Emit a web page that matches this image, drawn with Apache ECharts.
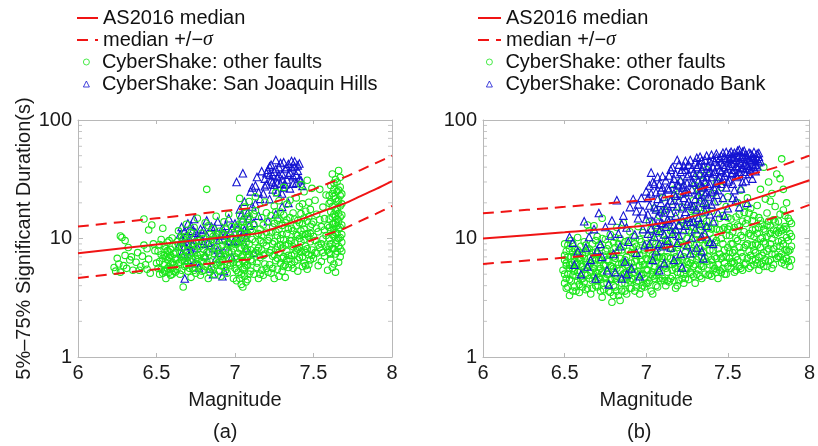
<!DOCTYPE html>
<html><head><meta charset="utf-8">
<script src="https://cdn.jsdelivr.net/npm/echarts@6/dist/echarts.min.js"></script>
<style>html,body{margin:0;padding:0;background:#fff}#c{width:818px;height:446px}</style>
</head><body><div id="c"></div>
<script>
// ---------- Model lines (AS2016) ----------
const magLineA = [6.0, 6.5, 7.0, 7.15, 7.3, 7.4, 7.5, 7.6, 7.7, 7.8, 7.9, 8.0];
const medA = [7.5, 8.9, 10.5, 11.1, 12.8, 14.2, 15.9, 17.8, 19.8, 22.8, 26.2, 30.5];
const upA  = [12.6, 14.8, 17.5, 18.5, 21.3, 23.5, 26.0, 29.4, 33.0, 37.8, 43.5, 50.0];
const loA  = [4.65, 5.5, 6.5, 6.85, 7.9, 8.75, 9.8, 11.0, 12.2, 14.1, 16.2, 18.8];

const magLineB = [6.0, 6.5, 7.0, 7.2, 7.4, 7.6, 7.8, 8.0];
const medB = [10.0, 11.3, 12.9, 14.3, 17.0, 20.4, 25.0, 31.0];
const upB  = [16.3, 18.5, 21.2, 23.4, 27.8, 33.4, 40.0, 50.0];
const loB  = [6.1, 6.9, 7.9, 8.8, 10.5, 12.5, 15.3, 19.2];

// ---------- Axis ticks ----------
const xTicks = [6, 6.5, 7, 7.5, 8];
const yMinorTicks = [2,3,4,5,6,7,8,9,20,30,40,50,60,70,80,90];

// ---------- Panel (a) CyberShake: other faults [magnitude, duration] ----------
const gA1 = [[6.23,5.7],[6.24,5.3],[6.25,6.8],[6.26,6.1],[6.27,10.5],[6.27,5.2],[6.28,10.2],[6.29,5.9],[6.30,7.2],[6.30,9.6],[6.31,5.6],[6.32,8.4],[6.33,6.6],[6.34,7.0],[6.35,5.4]];
const gA2 = [[6.37,6.3],[6.38,7.6],[6.39,5.4],[6.40,5.8],[6.41,7.1],[6.42,14.6],[6.43,6.0],[6.44,8.2],[6.45,6.7],[6.45,11.8],[6.46,5.1],[6.47,13.0],[6.48,9.0],[6.49,7.9],[6.44,5.5],[6.42,8.8]];
const gA3 = [[6.51,5.6],[6.52,6.4],[6.52,5.0],[6.53,7.3],[6.53,9.8],[6.54,5.1],[6.54,12.2],[6.55,8.6],[6.55,6.0],[6.56,7.0],[6.56,5.4],[6.56,4.6],[6.57,9.3],[6.57,6.6],[6.57,7.9],[6.58,5.8],[6.58,7.7],[6.58,5.2],[6.59,8.1],[6.59,4.9],[6.59,6.1],[6.60,6.3],[6.60,10.1],[6.60,5.6],[6.61,7.4],[6.61,5.3],[6.62,6.8],[6.62,8.8],[6.55,7.2],[6.58,6.9]];
const gA4 = [[6.63,5.5],[6.63,9.4],[6.64,6.2],[6.64,11.6],[6.65,7.6],[6.65,5.0],[6.66,8.3],[6.66,6.6],[6.67,3.9],[6.67,9.9],[6.68,5.8],[6.68,7.1],[6.69,13.2],[6.69,6.0],[6.70,8.9],[6.70,5.3],[6.71,10.6],[6.71,7.4],[6.72,6.4],[6.72,4.7],[6.73,9.1],[6.73,5.6],[6.74,12.4],[6.74,7.9],[6.75,6.8],[6.75,5.1],[6.76,8.5],[6.76,14.8],[6.68,10.4],[6.70,6.9]];
const gA5 = [[6.77,5.9],[6.77,9.6],[6.78,7.3],[6.78,4.9],[6.79,11.1],[6.79,6.4],[6.80,8.1],[6.80,5.4],[6.81,13.6],[6.81,7.0],[6.82,26.0],[6.82,6.1],[6.83,9.3],[6.83,4.6],[6.84,7.7],[6.84,10.8],[6.85,5.7],[6.85,8.7],[6.86,12.1],[6.86,6.6],[6.87,7.4],[6.87,5.0],[6.88,9.9],[6.88,15.4],[6.80,6.9],[6.84,5.2]];
const gA6 = [[6.89,6.2],[6.89,8.4],[6.90,5.3],[6.90,11.5],[6.91,7.1],[6.91,4.8],[6.92,9.6],[6.92,6.5],[6.93,13.8],[6.93,5.7],[6.94,8.0],[6.94,7.3],[6.95,10.4],[6.95,5.1],[6.96,6.8],[6.96,16.0],[6.97,9.0],[6.97,5.9],[6.98,7.7],[6.98,12.6],[6.99,6.3],[6.99,4.6],[6.92,8.8],[6.95,6.0]];
const gA7 = [[7.00,5.6],[7.00,8.9],[7.01,12.3],[7.01,6.7],[7.01,4.4],[7.02,10.1],[7.02,7.5],[7.02,5.2],[7.03,15.8],[7.03,8.2],[7.03,6.1],[7.04,4.1],[7.04,11.2],[7.04,7.0],[7.04,9.5],[7.05,5.5],[7.05,13.7],[7.05,6.5],[7.06,18.4],[7.06,8.6],[7.06,4.8],[7.07,7.8],[7.07,10.6],[7.07,5.9],[7.08,6.9],[7.08,14.6],[7.08,4.5],[7.09,9.0],[7.09,20.5],[7.09,7.3],[7.10,5.3],[7.10,11.9],[7.05,3.9],[7.03,21.8],[7.07,16.5],[7.02,9.3],[7.06,6.2],[7.08,8.0],[7.04,5.0],[7.09,12.8]];
const gA8 = [[7.11,6.4],[7.11,9.8],[7.12,5.0],[7.12,13.1],[7.13,7.6],[7.13,17.2],[7.14,5.7],[7.14,10.7],[7.15,8.3],[7.15,4.6],[7.16,12.0],[7.16,6.9],[7.17,15.0],[7.17,5.4],[7.18,9.2],[7.18,7.2],[7.19,20.3],[7.19,6.1],[7.20,11.3],[7.20,8.7],[7.21,5.2],[7.21,14.0],[7.13,22.5],[7.16,9.6],[7.18,4.9],[7.14,7.9]];
const gA9 = [[7.22,6.0],[7.22,10.3],[7.23,8.0],[7.23,15.6],[7.23,5.1],[7.24,12.5],[7.24,7.1],[7.25,4.6],[7.25,18.8],[7.25,9.4],[7.26,6.5],[7.26,11.4],[7.26,24.5],[7.27,5.5],[7.27,8.6],[7.27,14.3],[7.28,7.6],[7.28,20.8],[7.28,4.8],[7.29,10.0],[7.29,6.2],[7.29,16.7],[7.30,8.3],[7.30,12.9],[7.30,5.3],[7.31,7.0],[7.31,27.0],[7.31,9.7],[7.32,6.0],[7.32,13.6],[7.32,4.7],[7.33,11.0],[7.33,7.8],[7.33,19.5],[7.34,5.7],[7.34,9.0],[7.35,15.0],[7.35,6.7],[7.28,11.9],[7.25,7.3]];
const gA10 = [[7.36,7.2],[7.36,12.2],[7.37,5.6],[7.37,16.4],[7.38,9.2],[7.38,6.4],[7.39,22.0],[7.39,10.8],[7.40,5.3],[7.40,8.1],[7.40,14.2],[7.41,18.6],[7.41,6.9],[7.42,11.6],[7.42,28.5],[7.42,7.7],[7.43,5.8],[7.43,13.3],[7.44,9.8],[7.44,24.8],[7.44,6.2],[7.45,17.0],[7.45,8.6],[7.46,5.5],[7.46,11.0],[7.46,31.0],[7.47,7.3],[7.47,15.3],[7.47,20.2],[7.48,9.4],[7.48,6.6],[7.48,12.7],[7.49,8.0],[7.49,26.5],[7.41,10.0],[7.45,5.9],[7.43,19.6],[7.39,7.9],[7.47,10.3],[7.44,14.9]];
const gA11 = [[7.50,6.8],[7.50,13.8],[7.51,9.6],[7.51,21.0],[7.52,7.5],[7.52,16.0],[7.53,5.9],[7.53,11.4],[7.54,26.0],[7.54,8.4],[7.55,12.6],[7.55,6.4],[7.56,18.4],[7.56,9.9],[7.57,7.1],[7.57,14.7],[7.58,23.3],[7.58,10.6],[7.59,8.0],[7.59,5.4]];
const gA12 = [[7.60,7.6],[7.60,12.4],[7.60,19.8],[7.61,9.0],[7.61,28.0],[7.61,6.6],[7.62,15.2],[7.62,10.8],[7.62,35.0],[7.63,8.2],[7.63,22.6],[7.63,13.4],[7.63,6.1],[7.64,17.4],[7.64,11.2],[7.64,31.5],[7.64,7.4],[7.65,25.0],[7.65,9.6],[7.65,14.6],[7.65,20.6],[7.66,8.6],[7.66,37.5],[7.66,12.0],[7.66,16.3],[7.67,10.2],[7.67,27.2],[7.67,7.0],[7.67,18.8],[7.68,13.0],[7.68,23.8],[7.68,9.3],[7.62,5.7],[7.64,5.2],[7.66,6.3],[7.61,16.8],[7.63,29.4],[7.65,12.8],[7.67,32.8],[7.68,15.8],[7.60,10.0],[7.62,24.0]];
const gAx1 = [[6.50,6.2],[6.51,7.8],[6.52,8.9],[6.53,5.5],[6.54,6.8],[6.55,5.3],[6.56,8.2],[6.57,5.6],[6.58,9.6],[6.59,7.2],[6.60,5.0],[6.61,6.0],[6.62,7.6],[6.62,5.2],[6.63,6.6],[6.64,8.8],[6.65,6.3],[6.66,5.4],[6.66,10.2],[6.67,7.0],[6.68,6.4],[6.69,9.0],[6.70,7.8],[6.71,5.6],[6.72,11.2],[6.73,6.7],[6.74,5.4],[6.75,9.4],[6.76,6.1],[6.76,7.2]];
const gAx2 = [[6.77,6.8],[6.78,8.6],[6.79,5.3],[6.80,10.0],[6.81,5.8],[6.82,7.6],[6.83,12.8],[6.84,6.4],[6.85,9.8],[6.86,5.4],[6.87,8.2],[6.88,6.0],[6.89,10.8],[6.90,7.4],[6.91,5.9],[6.92,11.0],[6.93,7.0],[6.94,5.4],[6.95,9.0],[6.96,7.8],[6.97,6.2],[6.98,10.2],[6.99,8.2],[6.90,6.3],[6.94,12.0],[6.86,10.4]];
const gAx3 = [[7.00,7.0],[7.00,10.8],[7.01,5.4],[7.01,9.0],[7.02,13.0],[7.02,6.3],[7.03,11.0],[7.03,4.6],[7.04,8.3],[7.04,14.0],[7.05,7.2],[7.05,10.0],[7.06,5.7],[7.06,12.4],[7.07,9.2],[7.07,4.3],[7.08,11.0],[7.08,6.0],[7.09,5.0],[7.09,15.4],[7.10,8.0],[7.10,6.6],[7.11,11.5],[7.12,7.4],[7.13,9.4],[7.14,6.2],[7.15,11.0],[7.16,5.0],[7.17,8.0],[7.18,13.0],[7.19,7.4],[7.20,5.6],[7.21,9.6],[7.12,16.0],[7.17,10.6],[7.20,16.5]];
const gAx4 = [[7.22,7.6],[7.23,11.2],[7.24,5.6],[7.24,9.0],[7.25,13.4],[7.26,8.0],[7.27,10.6],[7.27,6.8],[7.28,14.8],[7.29,8.8],[7.30,6.8],[7.30,10.8],[7.31,5.8],[7.31,15.8],[7.32,8.8],[7.33,14.4],[7.34,7.2],[7.34,12.0],[7.35,9.6],[7.35,21.0],[7.36,6.0],[7.36,9.6],[7.37,11.6],[7.38,7.4],[7.38,14.6],[7.39,12.8],[7.40,6.6],[7.40,10.6],[7.41,8.4],[7.41,13.6],[7.42,9.4],[7.42,16.2],[7.43,7.0],[7.43,10.8],[7.44,12.0],[7.45,7.6],[7.45,10.8],[7.46,8.2],[7.46,14.0],[7.47,6.0],[7.48,11.0],[7.48,17.6],[7.49,7.2],[7.49,13.2],[7.44,8.0],[7.37,8.5],[7.33,6.6],[7.26,16.8]];
const gAx5 = [[7.50,10.4],[7.51,7.6],[7.52,12.2],[7.53,8.8],[7.54,14.4],[7.55,9.0],[7.56,7.6],[7.57,11.8],[7.58,8.6],[7.59,12.8],[7.60,8.6],[7.60,14.6],[7.60,23.0],[7.61,11.6],[7.61,20.4],[7.62,8.2],[7.62,13.2],[7.62,18.6],[7.63,10.4],[7.63,16.0],[7.63,26.0],[7.64,9.0],[7.64,13.6],[7.64,21.6],[7.65,7.8],[7.65,11.0],[7.65,17.8],[7.65,30.0],[7.66,10.0],[7.66,14.0],[7.66,21.0],[7.67,8.2],[7.67,12.4],[7.67,15.2],[7.67,23.0],[7.68,10.8],[7.68,19.6],[7.68,7.8],[7.61,7.4],[7.63,12.0],[7.66,25.6],[7.64,15.4]];

// ---------- Panel (a) CyberShake: San Joaquin Hills ----------
const bA1 = [[6.64,8.6],[6.65,10.8],[6.66,7.4],[6.66,12.5],[6.67,9.4],[6.68,4.6],[6.68,11.6],[6.69,8.0],[6.70,13.4],[6.70,6.6],[6.71,10.0],[6.72,7.8],[6.72,12.9],[6.73,9.0],[6.74,14.6],[6.74,6.2],[6.75,11.2],[6.76,8.4],[6.77,5.7],[6.78,12.0],[6.79,9.6]];
const bA2 = [[6.80,11.8],[6.81,7.2],[6.82,14.2],[6.83,9.2],[6.84,5.6],[6.85,12.6],[6.86,8.3],[6.87,10.5],[6.88,6.8],[6.89,13.9],[6.90,9.8],[6.91,7.6],[6.92,12.2],[6.93,5.3],[6.94,10.8],[6.95,8.6],[6.96,14.8],[6.97,11.4],[6.98,7.0],[6.99,9.4],[6.86,5.0],[6.92,4.8]];
const bA3 = [[7.00,13.4],[7.01,30.0],[7.02,9.6],[7.03,17.6],[7.04,11.6],[7.05,35.5],[7.05,14.8],[7.06,20.4],[7.07,10.2],[7.08,16.4],[7.09,12.8],[7.10,25.0],[7.11,18.6],[7.12,13.6],[7.13,28.0],[7.14,33.0],[7.15,15.6],[7.16,21.6],[7.17,37.0],[7.07,8.4],[7.12,7.6]];
const bA4 = [[7.18,24.0],[7.19,32.0],[7.20,28.6],[7.21,38.0],[7.22,21.5],[7.22,34.5],[7.23,42.0],[7.24,30.0],[7.24,26.0],[7.25,36.6],[7.26,46.0],[7.27,33.0],[7.27,24.6],[7.28,40.0],[7.29,29.0],[7.30,35.0],[7.31,44.0],[7.31,27.0],[7.32,38.6],[7.33,31.5],[7.34,42.6],[7.35,26.5],[7.35,36.0],[7.36,45.0],[7.37,33.6],[7.38,40.6],[7.39,29.6],[7.40,37.4],[7.41,43.0],[7.42,31.0],[7.43,27.8],[7.26,16.0],[7.30,18.5],[7.21,14.0],[7.34,20.0]];
const bAx = [[6.66,9.8],[6.68,8.6],[6.69,10.6],[6.71,8.8],[6.73,11.6],[6.75,9.8],[6.77,10.4],[6.80,9.0],[6.82,10.6],[6.84,8.8],[6.87,12.4],[6.89,8.0],[6.91,10.6],[6.94,12.8],[6.96,9.6],[6.98,12.2],[7.02,12.4],[7.04,15.8],[7.06,11.8],[7.09,14.8],[7.11,27.0],[7.13,19.6],[7.15,24.6],[7.19,27.6],[7.20,35.6],[7.22,40.6],[7.23,31.0],[7.25,28.4],[7.26,38.6],[7.28,34.0],[7.29,43.4],[7.30,31.6],[7.32,28.6],[7.33,40.0],[7.34,34.6],[7.36,40.0],[7.37,29.0],[7.38,44.6],[7.39,34.4],[7.40,41.4],[7.41,31.8],[7.24,34.0],[7.27,29.4],[7.30,24.0]];

// ---------- Panel (b) CyberShake: other faults ----------
const gB1 = [[6.49,5.4],[6.50,4.2],[6.50,6.6],[6.51,7.8],[6.51,3.8],[6.52,5.0],[6.52,8.8],[6.53,6.0],[6.53,4.5],[6.54,7.0],[6.54,9.6],[6.55,5.6],[6.55,3.6],[6.56,6.4],[6.56,8.2],[6.57,4.8],[6.57,7.4],[6.58,5.2],[6.58,10.2],[6.59,6.8],[6.59,4.1],[6.60,5.8],[6.60,8.6],[6.53,3.3],[6.56,3.9],[6.51,5.9],[6.58,6.2],[6.55,7.7],[6.50,9.0],[6.59,3.5]];
const gB2 = [[6.61,4.6],[6.61,7.2],[6.62,5.5],[6.62,9.4],[6.63,3.7],[6.63,6.3],[6.64,8.0],[6.64,4.9],[6.65,11.6],[6.65,5.9],[6.66,7.0],[6.66,3.4],[6.67,4.4],[6.67,9.0],[6.68,6.1],[6.68,12.8],[6.69,5.2],[6.69,7.7],[6.70,3.9],[6.70,10.4],[6.71,6.6],[6.71,4.7],[6.72,8.4],[6.72,5.6],[6.73,14.8],[6.73,3.2],[6.74,7.1],[6.74,4.2],[6.75,9.8],[6.75,5.9],[6.63,8.8],[6.67,6.6],[6.70,5.1],[6.72,3.6],[6.64,13.0],[6.69,4.0]];
const gB3 = [[6.76,5.0],[6.76,8.2],[6.77,3.6],[6.77,6.4],[6.78,10.8],[6.78,4.5],[6.79,7.4],[6.79,2.9],[6.80,5.6],[6.80,9.2],[6.81,3.9],[6.81,6.8],[6.82,12.4],[6.82,4.8],[6.83,7.9],[6.83,3.3],[6.84,5.4],[6.84,10.0],[6.85,6.2],[6.85,4.2],[6.86,8.6],[6.86,13.6],[6.87,5.1],[6.87,3.6],[6.88,7.0],[6.88,4.5],[6.89,9.6],[6.89,5.8],[6.90,3.8],[6.90,11.4],[6.78,5.9],[6.81,8.4],[6.84,3.0],[6.87,6.6],[6.80,4.0],[6.88,5.2]];
const gB4 = [[6.91,4.6],[6.91,7.6],[6.92,5.7],[6.92,10.4],[6.93,3.6],[6.93,6.4],[6.94,8.6],[6.94,4.3],[6.95,12.6],[6.95,5.3],[6.96,7.2],[6.96,3.4],[6.97,9.4],[6.97,4.9],[6.98,6.0],[6.98,11.2],[6.99,3.9],[6.99,8.0],[7.00,5.5],[7.00,6.8],[6.93,9.0],[6.96,5.9],[6.98,4.0]];
const gB5 = [[7.01,4.2],[7.01,8.4],[7.02,6.0],[7.02,13.8],[7.03,3.6],[7.03,10.2],[7.04,5.2],[7.04,7.3],[7.05,18.0],[7.05,4.6],[7.06,9.0],[7.06,6.4],[7.07,12.0],[7.07,3.9],[7.08,5.6],[7.08,15.6],[7.09,7.8],[7.09,4.4],[7.10,22.0],[7.10,10.8],[7.11,5.9],[7.11,8.6],[7.12,4.0],[7.12,13.0],[7.04,3.4],[7.07,6.9],[7.09,11.4],[7.03,5.0],[7.11,17.2],[7.06,4.9]];
const gB6 = [[7.13,5.2],[7.13,9.6],[7.14,4.3],[7.14,14.4],[7.15,6.8],[7.15,20.5],[7.16,4.8],[7.16,11.2],[7.17,7.6],[7.17,26.0],[7.18,5.6],[7.18,16.6],[7.19,8.4],[7.19,4.0],[7.20,12.6],[7.20,6.2],[7.21,30.0],[7.21,9.2],[7.22,4.6],[7.22,18.4],[7.23,7.0],[7.23,13.6],[7.24,5.4],[7.24,24.0],[7.25,10.0],[7.25,6.4],[7.18,3.8],[7.15,8.2],[7.21,5.1],[7.23,4.2],[7.19,22.5],[7.16,6.0]];
const gB7 = [[7.26,4.5],[7.26,8.8],[7.27,6.2],[7.27,15.0],[7.28,11.2],[7.28,5.0],[7.29,21.0],[7.29,7.4],[7.30,4.2],[7.30,9.8],[7.30,28.0],[7.31,6.6],[7.31,13.0],[7.32,18.0],[7.32,5.5],[7.32,34.0],[7.33,8.2],[7.33,11.8],[7.33,24.5],[7.34,4.6],[7.34,7.0],[7.34,16.2],[7.35,10.4],[7.35,30.5],[7.35,5.8],[7.36,8.8],[7.36,20.0],[7.37,6.4],[7.37,14.0],[7.37,38.0],[7.38,12.2],[7.38,4.9],[7.31,9.0],[7.29,5.8],[7.33,6.0],[7.36,12.6],[7.32,26.0],[7.34,22.0],[7.30,16.8],[7.28,7.9]];
const gB8 = [[7.39,6.0],[7.39,11.0],[7.40,4.8],[7.40,17.0],[7.41,8.0],[7.41,24.0],[7.42,5.6],[7.42,13.4],[7.43,9.6],[7.43,6.8],[7.44,20.5],[7.44,4.6],[7.45,11.8],[7.45,7.4],[7.46,27.0],[7.46,5.2],[7.47,15.6],[7.47,9.0],[7.48,6.2],[7.48,12.4],[7.49,18.6],[7.49,5.0],[7.50,8.4],[7.50,22.5],[7.51,6.8],[7.51,10.6],[7.52,14.6],[7.52,5.6],[7.43,30.0],[7.47,7.0],[7.41,5.9],[7.50,12.0]];
const gB9 = [[7.53,6.4],[7.53,11.4],[7.54,8.0],[7.54,5.2],[7.55,15.2],[7.55,7.0],[7.56,9.6],[7.56,20.0],[7.57,5.8],[7.57,12.6],[7.58,7.6],[7.58,25.5],[7.59,10.2],[7.59,5.4],[7.60,16.6],[7.60,8.4],[7.61,6.2],[7.61,13.4],[7.62,22.0],[7.62,9.0],[7.63,5.6],[7.63,11.0],[7.64,7.2],[7.64,18.0],[7.65,8.8],[7.65,14.2],[7.66,6.0],[7.66,10.4]];
const gB10 = [[7.67,6.6],[7.67,12.0],[7.68,8.8],[7.68,19.0],[7.69,5.4],[7.69,15.0],[7.70,10.0],[7.70,26.0],[7.71,7.2],[7.71,13.2],[7.72,5.8],[7.72,9.4],[7.73,21.5],[7.73,11.4],[7.74,7.8],[7.74,16.4],[7.75,30.0],[7.75,6.4],[7.76,12.8],[7.76,9.0],[7.77,24.0],[7.77,5.6],[7.78,14.4],[7.78,8.2],[7.79,18.6],[7.79,10.8],[7.80,6.8],[7.80,35.0],[7.72,40.0],[7.76,20.6],[7.70,6.0],[7.74,13.0]];
const gB11 = [[7.81,9.4],[7.81,14.0],[7.82,7.0],[7.82,32.0],[7.83,11.6],[7.83,47.0],[7.83,6.2],[7.84,17.4],[7.84,9.0],[7.85,12.6],[7.85,6.0],[7.86,20.0],[7.86,10.2],[7.87,7.8],[7.87,14.8],[7.88,11.0],[7.88,5.8],[7.89,8.6],[7.89,13.4],[7.84,26.0],[7.86,8.0],[7.82,16.0]];
const gBx1 = [[6.50,5.0],[6.50,7.2],[6.51,4.6],[6.51,6.2],[6.52,3.9],[6.52,7.0],[6.53,5.6],[6.53,8.2],[6.54,4.4],[6.54,6.0],[6.55,4.9],[6.55,9.0],[6.56,5.3],[6.56,7.0],[6.57,3.6],[6.57,6.0],[6.58,4.4],[6.58,8.0],[6.59,5.4],[6.59,7.6],[6.60,4.5],[6.60,6.6],[6.61,3.9],[6.61,5.8],[6.62,4.3],[6.62,6.8],[6.63,5.0],[6.63,7.6],[6.64,3.8],[6.64,6.0],[6.65,4.6],[6.65,8.2],[6.66,5.2],[6.66,6.2],[6.67,3.8],[6.67,7.6],[6.68,4.8],[6.68,5.6],[6.69,6.6],[6.69,9.6],[6.70,4.4],[6.70,7.4],[6.71,5.4],[6.71,8.8],[6.72,4.5],[6.72,6.6],[6.73,5.2],[6.73,10.0],[6.74,3.7],[6.74,6.0],[6.75,4.6],[6.75,7.8]];
const gBx2 = [[6.76,4.2],[6.76,6.6],[6.77,5.0],[6.77,8.8],[6.78,3.5],[6.78,7.2],[6.79,4.6],[6.79,5.8],[6.80,3.3],[6.80,7.0],[6.81,4.6],[6.81,10.2],[6.82,5.6],[6.82,3.6],[6.83,6.0],[6.83,9.0],[6.84,4.6],[6.84,6.8],[6.85,3.6],[6.85,8.0],[6.86,5.0],[6.86,6.2],[6.87,4.2],[6.87,9.4],[6.88,3.4],[6.88,6.0],[6.89,4.8],[6.89,7.8],[6.90,5.4],[6.90,4.4],[6.91,3.8],[6.91,6.2],[6.92,4.5],[6.92,8.4],[6.93,5.2],[6.93,7.2],[6.94,3.9],[6.94,6.6],[6.95,4.4],[6.95,8.0],[6.96,5.0],[6.96,9.8],[6.97,3.8],[6.97,6.4],[6.98,5.0],[6.98,7.4],[6.99,4.6],[6.99,6.0],[7.00,4.2],[7.00,9.0]];
const gBx3 = [[7.01,5.4],[7.01,6.6],[7.02,4.4],[7.02,8.0],[7.03,6.6],[7.03,12.0],[7.04,4.8],[7.04,9.4],[7.05,5.8],[7.05,7.0],[7.06,4.0],[7.06,11.0],[7.07,5.2],[7.07,8.2],[7.08,4.6],[7.08,7.0],[7.09,6.0],[7.09,9.0],[7.10,4.6],[7.10,6.8],[7.11,4.4],[7.11,7.0],[7.12,5.6],[7.12,9.8],[7.13,4.4],[7.13,7.0],[7.14,6.0],[7.14,9.0],[7.15,4.6],[7.15,11.6],[7.16,5.4],[7.16,8.2],[7.17,4.4],[7.17,6.2],[7.18,7.0],[7.18,10.4],[7.19,5.2],[7.19,6.4],[7.20,4.4],[7.20,8.8],[7.21,5.8],[7.21,14.0],[7.22,6.6],[7.22,10.6],[7.23,5.0],[7.23,8.8],[7.24,4.6],[7.24,7.6],[7.25,5.6],[7.25,13.0]];
const gBx4 = [[7.26,6.0],[7.26,11.6],[7.27,5.2],[7.27,9.2],[7.28,6.6],[7.28,17.6],[7.29,4.8],[7.29,12.4],[7.30,6.0],[7.30,7.8],[7.31,5.0],[7.31,10.8],[7.32,7.0],[7.32,14.0],[7.33,4.8],[7.33,9.8],[7.34,5.8],[7.34,12.6],[7.35,7.6],[7.35,14.8],[7.36,5.0],[7.36,6.8],[7.37,9.6],[7.37,18.0],[7.38,7.0],[7.38,9.0],[7.39,5.0],[7.39,8.0],[7.40,6.6],[7.40,12.0],[7.41,5.4],[7.41,10.0],[7.42,7.0],[7.42,9.2],[7.43,5.2],[7.43,12.0],[7.44,6.0],[7.44,8.2],[7.45,5.4],[7.45,14.8],[7.46,6.8],[7.46,10.0],[7.47,5.6],[7.47,12.0],[7.48,8.0],[7.48,5.0],[7.49,7.0],[7.49,10.6],[7.50,5.8],[7.50,15.0],[7.51,7.8],[7.51,12.6],[7.52,6.2],[7.52,9.0]];
const gBx5 = [[7.53,7.6],[7.53,9.0],[7.54,6.2],[7.54,12.4],[7.55,5.4],[7.55,10.0],[7.56,6.6],[7.56,13.0],[7.57,8.4],[7.57,16.0],[7.58,5.6],[7.58,10.6],[7.59,7.0],[7.59,14.0],[7.60,6.0],[7.60,11.4],[7.61,8.8],[7.61,19.0],[7.62,6.8],[7.62,14.4],[7.63,7.8],[7.63,16.4],[7.64,5.8],[7.64,10.6],[7.65,6.6],[7.65,11.8],[7.66,8.0],[7.66,15.6],[7.67,9.0],[7.67,7.6],[7.68,6.2],[7.68,11.0],[7.69,7.0],[7.69,12.4],[7.70,8.4],[7.70,14.2],[7.71,6.2],[7.71,10.2],[7.72,7.6],[7.72,12.0],[7.73,6.6],[7.73,9.0],[7.74,5.8],[7.74,10.4],[7.75,8.2],[7.75,14.0],[7.76,6.6],[7.76,11.0],[7.77,7.4],[7.77,10.0],[7.78,6.0],[7.78,11.8],[7.79,7.4],[7.79,13.8],[7.80,8.6],[7.80,11.6],[7.81,7.0],[7.81,11.2],[7.82,8.6],[7.82,12.2],[7.83,7.4],[7.83,9.6],[7.84,6.6],[7.84,12.0],[7.85,8.0],[7.85,15.6],[7.86,6.8],[7.86,12.0],[7.87,9.6],[7.87,6.4],[7.88,8.0],[7.88,14.0],[7.89,10.4],[7.89,6.6]];

// ---------- Panel (b) CyberShake: Coronado Bank ----------
const bB1 = [[6.53,10.3],[6.55,9.2],[6.56,6.0],[6.58,7.8],[6.60,5.0],[6.62,14.0],[6.63,8.4],[6.65,10.3],[6.66,6.6],[6.68,12.0],[6.69,4.6],[6.71,16.4],[6.72,9.0],[6.73,7.0],[6.75,12.5],[6.76,5.4],[6.77,4.1],[6.78,10.6],[6.64,5.8],[6.70,8.0]];
const bB2 = [[6.79,14.2],[6.80,7.4],[6.81,5.2],[6.82,21.0],[6.83,11.0],[6.84,8.6],[6.85,4.6],[6.86,15.6],[6.87,6.4],[6.88,12.4],[6.89,9.4],[6.90,18.4],[6.91,5.6],[6.92,21.5],[6.93,10.8],[6.94,7.6],[6.95,14.8],[6.96,4.8],[6.97,22.0],[6.98,12.0],[6.99,8.8],[6.88,5.0],[6.94,17.0],[6.85,13.2]];
const bB3 = [[7.00,14.6],[7.01,22.0],[7.02,9.0],[7.02,28.0],[7.03,36.0],[7.03,12.0],[7.04,30.0],[7.04,6.6],[7.05,18.4],[7.05,10.4],[7.06,24.6],[7.06,7.8],[7.07,15.4],[7.07,33.0],[7.08,11.6],[7.08,5.4],[7.09,20.0],[7.09,13.6],[7.10,27.0],[7.10,8.6],[7.11,16.6],[7.11,6.2],[7.12,31.0],[7.12,12.6],[7.13,19.0],[7.13,9.6],[7.01,16.0],[7.06,13.0],[7.09,25.5],[7.11,10.8]];
const bB4 = [[7.14,14.0],[7.14,26.0],[7.15,8.4],[7.15,38.0],[7.16,19.6],[7.16,11.0],[7.17,32.0],[7.17,6.6],[7.18,23.0],[7.18,15.6],[7.19,46.0],[7.19,9.2],[7.20,28.0],[7.20,13.0],[7.21,36.5],[7.21,7.4],[7.22,18.0],[7.22,5.7],[7.23,41.0],[7.23,11.8],[7.24,25.0],[7.24,16.8],[7.25,33.6],[7.25,8.8],[7.26,42.0],[7.26,20.6],[7.27,13.8],[7.27,7.5],[7.28,30.0],[7.28,10.2],[7.16,29.0],[7.20,21.0],[7.24,38.0],[7.18,12.0],[7.22,27.0],[7.26,15.0]];
const bB5 = [[7.29,18.6],[7.29,36.0],[7.30,12.0],[7.30,44.0],[7.31,25.6],[7.31,8.4],[7.32,31.0],[7.32,15.0],[7.33,49.0],[7.33,21.0],[7.34,10.4],[7.34,38.6],[7.35,27.0],[7.35,6.8],[7.36,17.0],[7.36,46.0],[7.37,33.0],[7.37,12.8],[7.38,22.6],[7.38,41.0],[7.39,9.4],[7.39,29.0],[7.40,51.0],[7.40,19.4],[7.41,35.0],[7.41,14.0],[7.42,26.0],[7.42,44.6],[7.43,48.0],[7.43,23.4],[7.44,31.6],[7.44,16.4],[7.31,40.0],[7.33,28.6],[7.35,20.0],[7.37,24.6],[7.39,37.0],[7.36,11.0],[7.34,7.8],[7.41,9.0]];
const bB6 = [[7.45,38.0],[7.46,29.0],[7.46,50.0],[7.47,42.0],[7.47,22.0],[7.48,34.0],[7.49,46.0],[7.49,27.0],[7.50,39.0],[7.51,52.0],[7.51,31.0],[7.52,54.0],[7.52,44.0],[7.53,36.0],[7.54,48.0],[7.54,25.6],[7.55,41.0],[7.56,55.0],[7.56,33.0],[7.57,56.0],[7.57,45.0],[7.58,38.6],[7.59,49.0],[7.59,30.0],[7.60,42.0],[7.61,51.0],[7.61,35.0],[7.62,20.0],[7.63,46.0],[7.63,39.0],[7.64,52.0],[7.65,43.0],[7.65,32.0],[7.66,48.0],[7.67,37.0],[7.68,52.0],[7.69,44.0],[7.69,52.6],[7.50,18.0],[7.55,21.0],[7.48,15.6],[7.58,26.5],[7.53,48.6],[7.60,55.0]];
const bBx1 = [[6.95,19.4],[6.98,17.0],[7.00,25.0],[7.01,11.0],[7.02,19.0],[7.03,24.0],[7.04,14.0],[7.05,29.0],[7.06,17.6],[7.07,21.6],[7.08,28.6],[7.08,9.0],[7.09,17.0],[7.10,13.4],[7.10,33.6],[7.11,22.6],[7.12,18.0],[7.13,26.6],[7.13,14.4],[7.14,34.0],[7.15,21.0],[7.15,16.4],[7.16,40.0],[7.17,24.0],[7.17,13.0],[7.18,35.0],[7.19,18.6],[7.19,28.6],[7.20,42.0],[7.20,10.6]];
const bBx2 = [[7.21,24.0],[7.21,31.0],[7.22,38.0],[7.22,14.6],[7.23,22.0],[7.23,28.6],[7.24,45.0],[7.24,12.8],[7.25,19.6],[7.25,29.4],[7.26,35.0],[7.26,24.6],[7.27,46.0],[7.27,19.0],[7.28,26.0],[7.28,39.0],[7.29,14.0],[7.29,29.6],[7.30,21.6],[7.30,34.0],[7.31,48.0],[7.31,17.6],[7.32,42.0],[7.32,23.4],[7.33,35.6],[7.33,13.4],[7.34,45.6],[7.34,27.6],[7.35,33.0],[7.35,40.6],[7.36,23.6],[7.36,30.0],[7.37,50.0],[7.37,19.4],[7.38,36.0],[7.38,28.0],[7.39,45.0],[7.39,16.0],[7.40,33.0],[7.40,25.0],[7.41,46.6],[7.41,40.0],[7.42,20.6],[7.42,36.6],[7.43,29.6],[7.43,52.0],[7.44,41.6],[7.44,25.6],[7.45,47.6],[7.45,33.0]];
const bBx3 = [[7.46,37.0],[7.46,44.0],[7.47,53.0],[7.47,32.0],[7.48,40.0],[7.48,48.0],[7.49,36.0],[7.49,53.6],[7.50,45.0],[7.50,30.0],[7.51,41.0],[7.51,47.0],[7.52,35.0],[7.52,49.0],[7.53,42.6],[7.53,29.0],[7.54,38.0],[7.54,53.0],[7.55,46.0],[7.55,34.0],[7.56,40.0],[7.56,49.6],[7.57,36.6],[7.57,50.6],[7.58,43.6],[7.58,47.6],[7.59,39.6],[7.59,54.0],[7.60,36.6],[7.60,47.0],[7.61,43.0],[7.61,30.6],[7.62,48.6],[7.62,41.0],[7.63,35.0],[7.63,53.0],[7.64,44.6],[7.64,38.0],[7.65,50.0],[7.65,46.0],[7.66,40.0],[7.66,53.6],[7.67,45.6],[7.67,42.0],[7.68,47.0],[7.68,40.6],[7.69,49.0],[7.70,45.0],[7.53,22.0],[7.57,18.4]];

// ---------- Build ----------
const FONT = 'Liberation Sans';
const RED = '#f01414', GREEN = '#1ce61c', BLUE = '#1414d2', AXIS = '#b8b8b8';
const greenA = [].concat(gA1,gA2,gA3,gA4,gA5,gA6,gA7,gA8,gA9,gA10,gA11,gA12,gAx1,gAx2,gAx3,gAx4,gAx5);
const blueA = [].concat(bA1,bA2,bA3,bA4,bAx);
const greenB = [].concat(gB1,gB2,gB3,gB4,gB5,gB6,gB7,gB8,gB9,gB10,gB11,gBx1,gBx2,gBx3,gBx4,gBx5);
const blueB = [].concat(bB1,bB2,bB3,bB4,bB5,bB6,bBx1,bBx2,bBx3);

const NAME_MED = 'AS2016 median', NAME_SIG = 'median +/\u2212\u03c3';
const NAME_G = 'CyberShake: other faults';
const NAME_BA = 'CyberShake: San Joaquin Hills', NAME_BB = 'CyberShake: Coronado Bank';

function pairs(ms, vs){ return ms.map((m,i)=>[m, vs[i]]); }
function lineS(name, ms, vs, idx, dashed){
  return {type:'line', name, xAxisIndex:idx, yAxisIndex:idx, data:pairs(ms,vs), symbol:'none',
    smooth:0.25, z:5, silent:true,
    lineStyle:{color:RED, width:2, type: dashed ? [11,7] : 'solid'}, itemStyle:{color:RED}};
}
function scat(name, data, idx, symbol, size, color){
  return {type:'scatter', name, xAxisIndex:idx, yAxisIndex:idx, data, symbol, symbolSize:size, silent:true,
    itemStyle:{color:'rgba(0,0,0,0)', borderColor:color, borderWidth:1.1, opacity:1}};
}
function minorS(idx, xEdge, off){
  return {type:'scatter', name:'minor'+idx+off, xAxisIndex:idx, yAxisIndex:idx, clip:false, silent:true,
    data: yMinorTicks.map(v=>[xEdge, v]), symbol:'rect', symbolSize:[4,1], symbolOffset:[off,0],
    itemStyle:{color:AXIS}, z:1};
}

const labelStyle = {color:'#1a1a1a', fontSize:20, fontFamily:FONT};
function xAx(gi, top){
  return {type:'value', gridIndex:gi, min:6, max:8, interval:0.5, position: top?'top':'bottom',
    name: top ? '' : 'Magnitude', nameLocation:'middle', nameGap:33,
    nameTextStyle:{color:'#1a1a1a', fontSize:20, fontFamily:FONT},
    axisLine:{show:true, onZero:false, lineStyle:{color:AXIS, width:1}},
    axisTick:{show:true, inside:true, length:4, lineStyle:{color:AXIS}},
    axisLabel:{show:!top, margin:6, ...labelStyle, formatter:v=>String(v)},
    splitLine:{show:false}};
}
function yAx(gi, right, withName){
  return {type:'log', logBase:10, gridIndex:gi, min:1, max:100, position: right?'right':'left',
    name: withName ? '5%\u201375% Significant Duration(s)' : '', nameLocation:'middle', nameGap:42,
    nameTextStyle:{color:'#1a1a1a', fontSize:20, fontFamily:FONT},
    axisLine:{show:true, lineStyle:{color:AXIS, width:1}},
    axisTick:{show:true, inside:true, length:5, lineStyle:{color:AXIS}},
    axisLabel:{show:!right, margin:6, ...labelStyle},
    splitLine:{show:false}};
}
const legendText = {color:'#111', fontSize:20, fontFamily:FONT, lineHeight:22,
  rich:{t:{color:'#111', fontSize:20, fontFamily:FONT, lineHeight:22},
        s:{color:'#111', fontSize:20, fontFamily:'Liberation Serif', fontStyle:'italic', lineHeight:22}}};
function lineLegend(left, width){
  return {orient:'vertical', left, top:7, padding:0, itemGap:0, itemWidth:width, itemHeight:6,
    selectedMode:false, textStyle:legendText,
    data:[{name:NAME_MED, itemStyle:{opacity:0}}, {name:NAME_SIG, itemStyle:{opacity:0}}],
    formatter: n => n === NAME_SIG ? '{t|median +/\u2212}{s|\u03c3}' : n};
}
function markLegend(left, padLeft, blueName){
  return {orient:'vertical', left, top:51, padding:0, itemGap:0, itemWidth:6, itemHeight:6,
    selectedMode:false, symbolKeepAspect:true,
    itemStyle:{borderWidth:0.8},
    textStyle:Object.assign({}, legendText, {padding:[0,0,0,padLeft]}),
    data:[NAME_G, blueName]};
}

const option = {
  animation:false,
  backgroundColor:'#fff',
  title:[
    {text:'(a)', left:213, top:422, padding:0, textStyle:{color:'#1a1a1a', fontSize:20, fontWeight:'normal', fontFamily:FONT}},
    {text:'(b)', left:627, top:422, padding:0, textStyle:{color:'#1a1a1a', fontSize:20, fontWeight:'normal', fontFamily:FONT}}
  ],
  legend:[
    lineLegend(76, 21), markLegend(83, 7.5, NAME_BA),
    lineLegend(477, 23), markLegend(486, 8, NAME_BB)
  ],
  grid:[
    {left:78, top:120, width:314, height:237},
    {left:483, top:120, width:328, height:237}
  ],
  xAxis:[xAx(0,false), xAx(0,true), xAx(1,false), xAx(1,true)],
  yAxis:[yAx(0,false,true), yAx(0,true,false), yAx(1,false,false), yAx(1,true,false)],
  series:[
    minorS(0, 6, 2), minorS(0, 8, -2), minorS(2, 6, 2), minorS(2, 8, -2),
    scat(NAME_BA, blueA, 0, 'triangle', 7.5, BLUE),
    scat(NAME_G, greenA, 0, 'circle', 6.5, GREEN),
    lineS(NAME_MED, magLineA, medA, 0, false),
    lineS(NAME_SIG, magLineA, upA, 0, true),
    lineS(NAME_SIG, magLineA, loA, 0, true),
    scat(NAME_G, greenB, 2, 'circle', 6.5, GREEN),
    scat(NAME_BB, blueB, 2, 'triangle', 7.5, BLUE),
    lineS(NAME_MED, magLineB, medB, 2, false),
    lineS(NAME_SIG, magLineB, upB, 2, true),
    lineS(NAME_SIG, magLineB, loB, 2, true)
  ]
};
const chart = echarts.init(document.getElementById('c'), null, {renderer:'canvas'});
chart.setOption(option);
</script>
</body></html>
